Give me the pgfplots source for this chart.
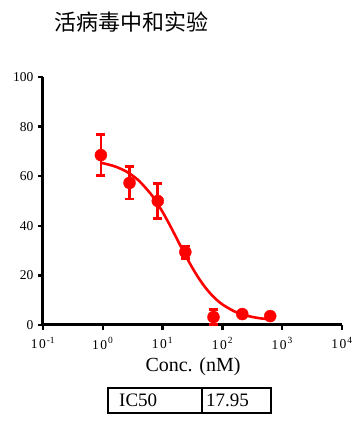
\documentclass[border=0pt]{standalone}
\usepackage{fontspec}
\setmainfont{Liberation Serif}
\newfontfamily\cjk{Noto Sans CJK SC}
\usepackage{pgfplots}
\pgfplotsset{compat=1.18}
\definecolor{cred}{RGB}{255,0,0}
\newcommand{\tl}[1]{1\hspace{1.5pt}0\hspace{1pt}\textsuperscript{#1}}
\begin{document}
\begin{tikzpicture}
\path[use as bounding box] (0,0) rectangle (360pt,427pt);
\begin{axis}[
  at={(43pt,102pt)}, anchor=south west,
  scale only axis, width=299pt, height=248pt,
  xmode=log, xmin=0.1, xmax=10000, ymin=0, ymax=100,
  axis lines=left, axis line style={-, line width=3pt},
  xtick={0.1,1,10,100,1000,10000},
  xticklabels={\tl{-1},\tl{0},\tl{1},\tl{2},\tl{3},\tl{4}},
  ytick={0,20,40,60,80,100},
  xminorticks=false,
  tick align=outside, major tick length=5pt,
  tick style={line width=2.4pt, black},
  /pgf/number format/assume math mode=true,
  tick label style={font=\fontsize{13.5}{13.5}\selectfont},
  xticklabel style={yshift=-4pt},
  yticklabel style={xshift=-1pt},
  clip=false,
]
\addplot[cred, line width=2.6pt, smooth, no marks] coordinates {
(0.933,65.4) (1,65.25) (1.585,63.96) (2.512,61.78) (3.981,58.26) (6.31,52.91)
(7.943,49.49) (10,45.55) (12.59,41.22) (15.85,36.6) (19.95,31.89) (25.12,27.29)
(31.62,22.95) (39.81,19.02) (50.12,15.58) (63.1,12.66) (79.43,10.24) (100,8.28)
(158.5,5.49) (251.2,3.81) (398.1,2.82) (631,2.25) (708,2.15)
};
\addplot[cred, only marks, mark=*, mark size=6pt,
  error bars/.cd, y dir=both, y explicit,
  error bar style={line width=2.6pt, cred},
  error mark options={rotate=90, mark size=4.5pt, line width=2.6pt, cred}]
coordinates {
(0.93,68.5) +- (0,8.3)
(2.8,57.3) +- (0,6.5)
(8.3,50) +- (0,7)
(24,29.4) +- (0,2.5)
(71,3.2) +- (0,3)
(215,4.4) +- (0,0.5)
(630,3.6) +- (0,0.5)
};
\end{axis}
\node[anchor=west, inner sep=0] at (54pt,405pt) {\cjk\fontsize{22}{22}\selectfont 活病毒中和实验};
\node[inner sep=0] at (193pt,60pt) {\fontsize{20}{20}\selectfont Conc. (nM)};
\draw[line width=1.8pt] (108pt,14pt) rectangle (271pt,39pt);
\draw[line width=1.8pt] (202pt,14pt) -- (202pt,39pt);
\node[anchor=west, inner sep=0] at (119pt,26.5pt) {\fontsize{19}{19}\selectfont IC50};
\node[anchor=west, inner sep=0] at (206pt,26.5pt) {\fontsize{19}{19}\selectfont 17.95};
\end{tikzpicture}
\end{document}
